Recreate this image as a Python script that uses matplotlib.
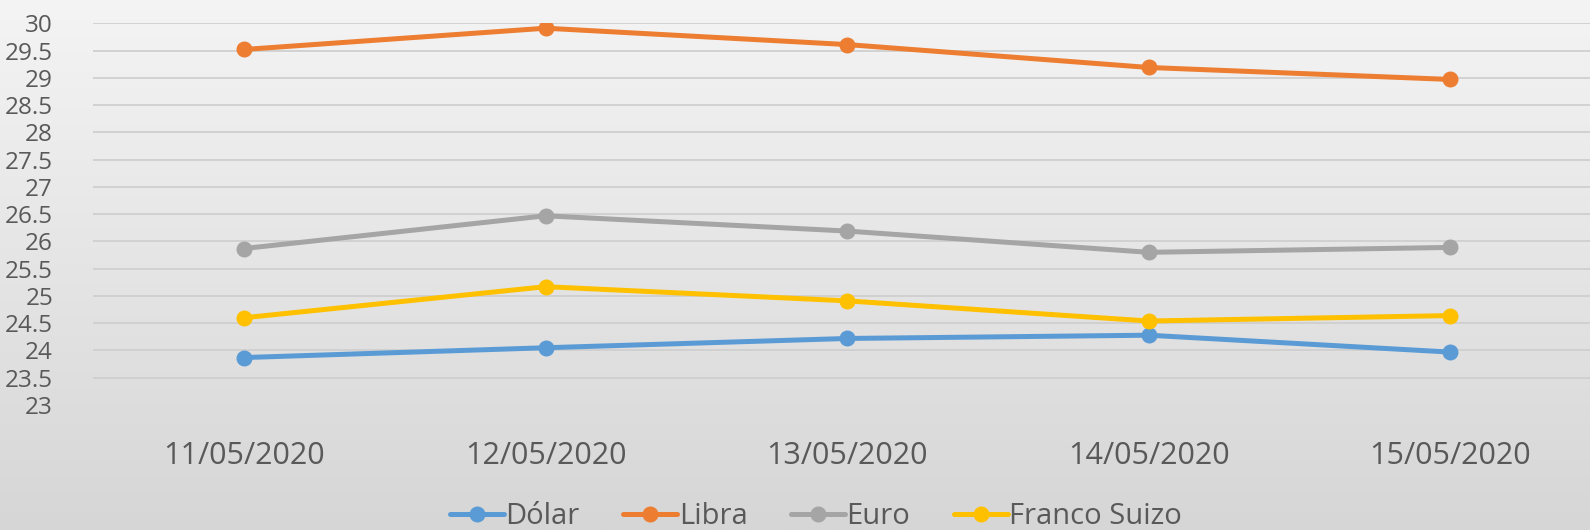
import matplotlib
matplotlib.use("Agg")
import matplotlib.pyplot as plt
import numpy as np
from matplotlib.colors import LinearSegmentedColormap

categories = ["11/05/2020", "12/05/2020", "13/05/2020", "14/05/2020", "15/05/2020"]
dolar = [23.87, 24.05, 24.22, 24.28, 23.97]
libra = [29.52, 29.91, 29.61, 29.19, 28.97]
euro = [25.87, 26.47, 26.19, 25.80, 25.89]
franco = [24.60, 25.17, 24.91, 24.54, 24.64]
series_names = ["Dólar", "Libra", "Euro", "Franco Suizo"]
series_colors = ["#5b9bd5", "#ed7d31", "#a5a5a5", "#ffc000"]
yticks = np.arange(23, 30.01, 0.5)

plt.rcParams['font.family'] = ['Open Sans', 'DejaVu Sans']

fig = plt.figure(figsize=(15.9, 5.3), dpi=100)
# gradient background
bg = fig.add_axes([0, 0, 1, 1], zorder=-10)
grad = np.linspace(0, 1, 256).reshape(-1, 1)
cmap = LinearSegmentedColormap.from_list("g", ["#f4f4f4", "#d6d6d6"])
bg.imshow(grad, aspect="auto", cmap=cmap, extent=[0, 1, 0, 1], origin="upper")
bg.axis("off")

left = 93.3 / 1590
ax = fig.add_axes([left, (530 - 405) / 530, 1601 / 1590 - left, (405 - 23.3) / 530])
ax.set_facecolor("none")
x = np.arange(len(categories))
for name, vals, c in zip(series_names, [dolar, libra, euro, franco], series_colors):
    ax.plot(x, vals, color=c, lw=3.6, marker="o", ms=10.5, label=name,
            solid_capstyle="round", zorder=3)

ax.set_xlim(-0.5, 4.5)
ax.set_ylim(23, 30)
ax.set_yticks(yticks)
ax.set_yticklabels([f"{v:g}" for v in yticks])
ax.set_xticks(x)
ax.set_xticklabels(categories)
ax.yaxis.grid(True, color="#cfcfcf", lw=1.3)
ax.get_ygridlines()[0].set_color("#d3d3d3")
ax.get_ygridlines()[0].set_linewidth(0.8)
ax.set_axisbelow(True)
for s in ax.spines.values():
    s.set_visible(False)
ax.tick_params(axis="both", length=0, colors="#595959")
ax.tick_params(axis="y", pad=29, labelsize=17.5)
ax.tick_params(axis="x", pad=26, labelsize=22)

leg = fig.legend(loc="center", bbox_to_anchor=(816 / 1590, 1 - 517 / 530), ncol=4,
                 frameon=False, fontsize=21, handlelength=1.85, handletextpad=0.05,
                 columnspacing=1.5, labelcolor="#595959")

fig.savefig("out.png", dpi=100)
